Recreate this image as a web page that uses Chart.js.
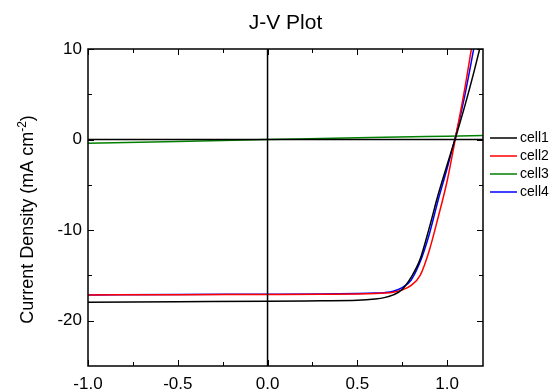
<!DOCTYPE html>
<html>
<head>
<meta charset="utf-8">
<script src="https://cdn.jsdelivr.net/npm/chart.js@4"></script>
<style>
  html, body { margin: 0; padding: 0; background: #fff; }
  #wrap { width: 557px; height: 391px; }
</style>
</head>
<body>
<div id="wrap"><canvas id="jv"></canvas></div>
<script>
// data
const voltage = [-1.0, -0.5, 0.0, 0.3, 0.5, 0.6, 0.65, 0.7, 0.75, 0.8, 0.85, 0.9, 0.95, 1.0, 1.05, 1.1, 1.15, 1.2];
const cell1 = [-17.95, -17.9, -17.85, -17.8, -17.75, -17.6, -17.45, -17.15, -16.55, -15.2, -13.2, -9.8, -6.1, -2.8, 0.4, 3.8, 7.5, 11.5];
const cell2 = [-17.15, -17.12, -17.1, -17.08, -17.05, -17.0, -16.95, -16.85, -16.6, -16.1, -15.0, -12.3, -8.6, -4.6, 0.5, 5.8, 11.8, 18.0];
const cell4 = [-17.15, -17.1, -17.08, -17.05, -17.0, -16.95, -16.9, -16.75, -16.35, -15.5, -13.5, -10.5, -6.7, -3.2, 0.6, 5.0, 10.2, 15.6];
const voltage3 = [-1.0, -0.5, 0.0, 0.5, 1.0, 1.2];
const cell3 = [-0.4, -0.2, 0.0, 0.2, 0.38, 0.45];

const seriesNames = ["cell1", "cell2", "cell3", "cell4"];
const seriesColors = ["#000000", "#ff0000", "#008000", "#0000ff"];

const xMajorTicks = [-1.0, -0.5, 0.0, 0.5, 1.0];
const xMinorTicks = [-0.75, -0.25, 0.25, 0.75];
const yMajorTicks = [10, 0, -10, -20];
const yMinorTicks = [5, -5, -15];

const FAMILY = "'Liberation Sans', Arial, sans-serif";

const pts = (xs, ys) => xs.map((x, i) => ({ x: x, y: ys[i] }));

const makeSet = (i, xs, ys) => ({
  label: seriesNames[i],
  data: pts(xs, ys),
  borderColor: seriesColors[i],
  backgroundColor: seriesColors[i],
  borderWidth: 1.5,
  pointRadius: 0,
  showLine: true,
  cubicInterpolationMode: "monotone"
});

// box, inner ticks, zero lines, titles, legend
const frame = {
  id: "frame",
  afterDatasetsDraw(chart) {
    const { ctx, chartArea: a, scales: { x, y } } = chart;
    ctx.save();
    ctx.strokeStyle = "#000";
    ctx.lineWidth = 1.5;
    ctx.beginPath();
    const x0 = x.getPixelForValue(0), y0 = y.getPixelForValue(0);
    ctx.moveTo(x0, a.top); ctx.lineTo(x0, a.bottom);
    ctx.moveTo(a.left, y0); ctx.lineTo(a.right, y0);
    ctx.stroke();
    ctx.strokeRect(a.left, a.top, a.right - a.left, a.bottom - a.top);

    ctx.lineWidth = 1;
    ctx.beginPath();
    const xt = (v, len) => {
      const p = Math.round(x.getPixelForValue(v)) + 0.5;
      ctx.moveTo(p, a.bottom); ctx.lineTo(p, a.bottom - len);
      ctx.moveTo(p, a.top); ctx.lineTo(p, a.top + len);
    };
    const yt = (v, len) => {
      const p = Math.round(y.getPixelForValue(v)) + 0.5;
      ctx.moveTo(a.left, p); ctx.lineTo(a.left + len, p);
      ctx.moveTo(a.right, p); ctx.lineTo(a.right - len, p);
    };
    xMajorTicks.forEach(v => xt(v, 6));
    xMinorTicks.forEach(v => xt(v, 4));
    yMajorTicks.forEach(v => yt(v, 6));
    yMinorTicks.forEach(v => yt(v, 4));
    ctx.stroke();

    ctx.fillStyle = "#000";

    // chart title
    ctx.font = "21px " + FAMILY;
    ctx.textAlign = "center";
    ctx.textBaseline = "middle";
    ctx.fillText("J-V Plot", (a.left + a.right) / 2, 23);

    // y axis title with superscript
    ctx.save();
    ctx.translate(33, (a.top + a.bottom) / 2 + 12);
    ctx.rotate(-Math.PI / 2);
    ctx.textAlign = "left";
    ctx.textBaseline = "alphabetic";
    const big = "18px " + FAMILY, small = "12px " + FAMILY;
    const p1 = "Current Density (mA cm", p2 = "-2", p3 = ")";
    ctx.font = big; const w1 = ctx.measureText(p1).width, w3 = ctx.measureText(p3).width;
    ctx.font = small; const w2 = ctx.measureText(p2).width;
    let sx = -(w1 + w2 + w3) / 2;
    ctx.font = big; ctx.fillText(p1, sx, 0); sx += w1;
    ctx.font = small; ctx.fillText(p2, sx, -7); sx += w2;
    ctx.font = big; ctx.fillText(p3, sx, 0);
    ctx.restore();

    // legend
    ctx.font = "14px " + FAMILY;
    ctx.textAlign = "left";
    ctx.textBaseline = "middle";
    chart.data.datasets.forEach((ds, i) => {
      const ly = a.top + 89 + i * 18;
      ctx.strokeStyle = ds.borderColor;
      ctx.lineWidth = 1.5;
      ctx.beginPath();
      ctx.moveTo(a.right + 7, ly); ctx.lineTo(a.right + 34, ly);
      ctx.stroke();
      ctx.fillText(ds.label, a.right + 37, ly);
    });
    ctx.restore();
  }
};

const tickFont = { family: FAMILY, size: 17 };

new Chart(document.getElementById("jv"), {
  type: "scatter",
  data: {
    datasets: [
      makeSet(0, voltage, cell1),
      makeSet(1, voltage, cell2),
      makeSet(2, voltage3, cell3),
      makeSet(3, voltage, cell4)
    ]
  },
  options: {
    responsive: true,
    maintainAspectRatio: false,
    animation: false,
    layout: { padding: { left: 0, right: 74, top: 49, bottom: 0 } },
    plugins: {
      legend: { display: false },
      tooltip: { enabled: false },
      title: { display: false }
    },
    scales: {
      x: {
        type: "linear",
        min: -1.0,
        max: 1.2,
        afterBuildTicks: s => { s.ticks = xMajorTicks.map(v => ({ value: v })); },
        afterFit: s => { s.height = 25; },
        grid: { display: false, drawTicks: false },
        border: { display: false },
        ticks: {
          color: "#000",
          font: tickFont,
          padding: 8,
          maxRotation: 0,
          callback: v => Number(v).toFixed(1)
        }
      },
      y: {
        type: "linear",
        min: -25,
        max: 10,
        afterBuildTicks: s => { s.ticks = yMajorTicks.map(v => ({ value: v })); },
        afterFit: s => { s.width = 88; },
        grid: { display: false, drawTicks: false },
        border: { display: false },
        ticks: {
          color: "#000",
          font: tickFont,
          padding: 6,
          callback: v => String(v)
        }
      }
    }
  },
  plugins: [frame]
});
</script>
</body>
</html>
